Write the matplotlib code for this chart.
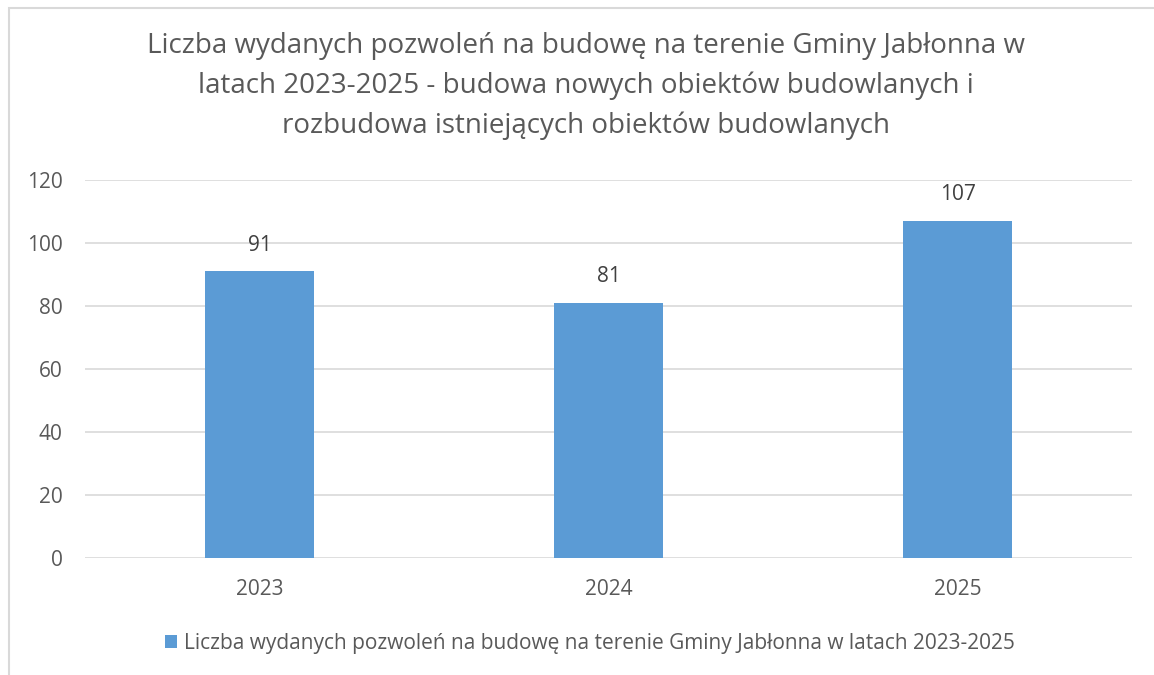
import matplotlib
matplotlib.use('Agg')
import matplotlib.pyplot as plt
from matplotlib.patches import Rectangle

years = ['2023', '2024', '2025']
values = [91, 81, 107]
y_ticks = [0, 20, 40, 60, 80, 100, 120]
title = ('Liczba wydanych pozwoleń na budowę na terenie Gminy Jabłonna w\n'
         'latach 2023-2025 - budowa nowych obiektów budowlanych i\n'
         'rozbudowa istniejących obiektów budowlanych')
series_name = 'Liczba wydanych pozwoleń na budowę na terenie Gminy Jabłonna w latach 2023-2025'

plt.rcParams['font.family'] = ['Open Sans', 'DejaVu Sans']
txt = '#595959'

fig = plt.figure(figsize=(11.54, 6.75), dpi=100)
# ramka wykresu
fig.patches.append(Rectangle((9 / 1154, -0.01), 1.02, 1 - 8 / 675 + 0.01, transform=fig.transFigure,
                             fill=False, edgecolor='#D9D9D9', linewidth=1.5))

ax = fig.add_axes([85 / 1154, 1 - 558 / 675, (1132 - 85) / 1154, (558 - 180) / 675])
x = range(len(years))
bars = ax.bar(x, values, width=0.31, color='#5B9BD5', zorder=3, label=series_name)
for b, v in zip(bars, values):
    ax.text(b.get_x() + b.get_width() / 2, v + 5, str(v), ha='center', va='bottom',
            fontsize=15, color='#404040')

ax.set_xlim(-0.5, 2.5)
ax.set_ylim(0, 120)
ax.set_yticks(y_ticks)
ax.set_xticks(list(x))
ax.set_xticklabels(years)
ax.yaxis.grid(True, color='#D9D9D9', linewidth=1.2, zorder=0)
for s in ax.spines.values():
    s.set_visible(False)
ax.tick_params(length=0, labelsize=15, labelcolor=txt)
ax.tick_params(axis='y', pad=16)
ax.tick_params(axis='x', pad=15)

fig.text(0.508, 1 - 86 / 675, title, ha='center', va='center', fontsize=20,
         color=txt, linespacing=1.55)

fig.legend(loc='center', bbox_to_anchor=(0.511, 1 - 643 / 675), frameon=False,
           fontsize=15, labelcolor=txt, handlelength=0.6, handleheight=0.6,
           handletextpad=0.3)

fig.savefig('out.png', dpi=100)
